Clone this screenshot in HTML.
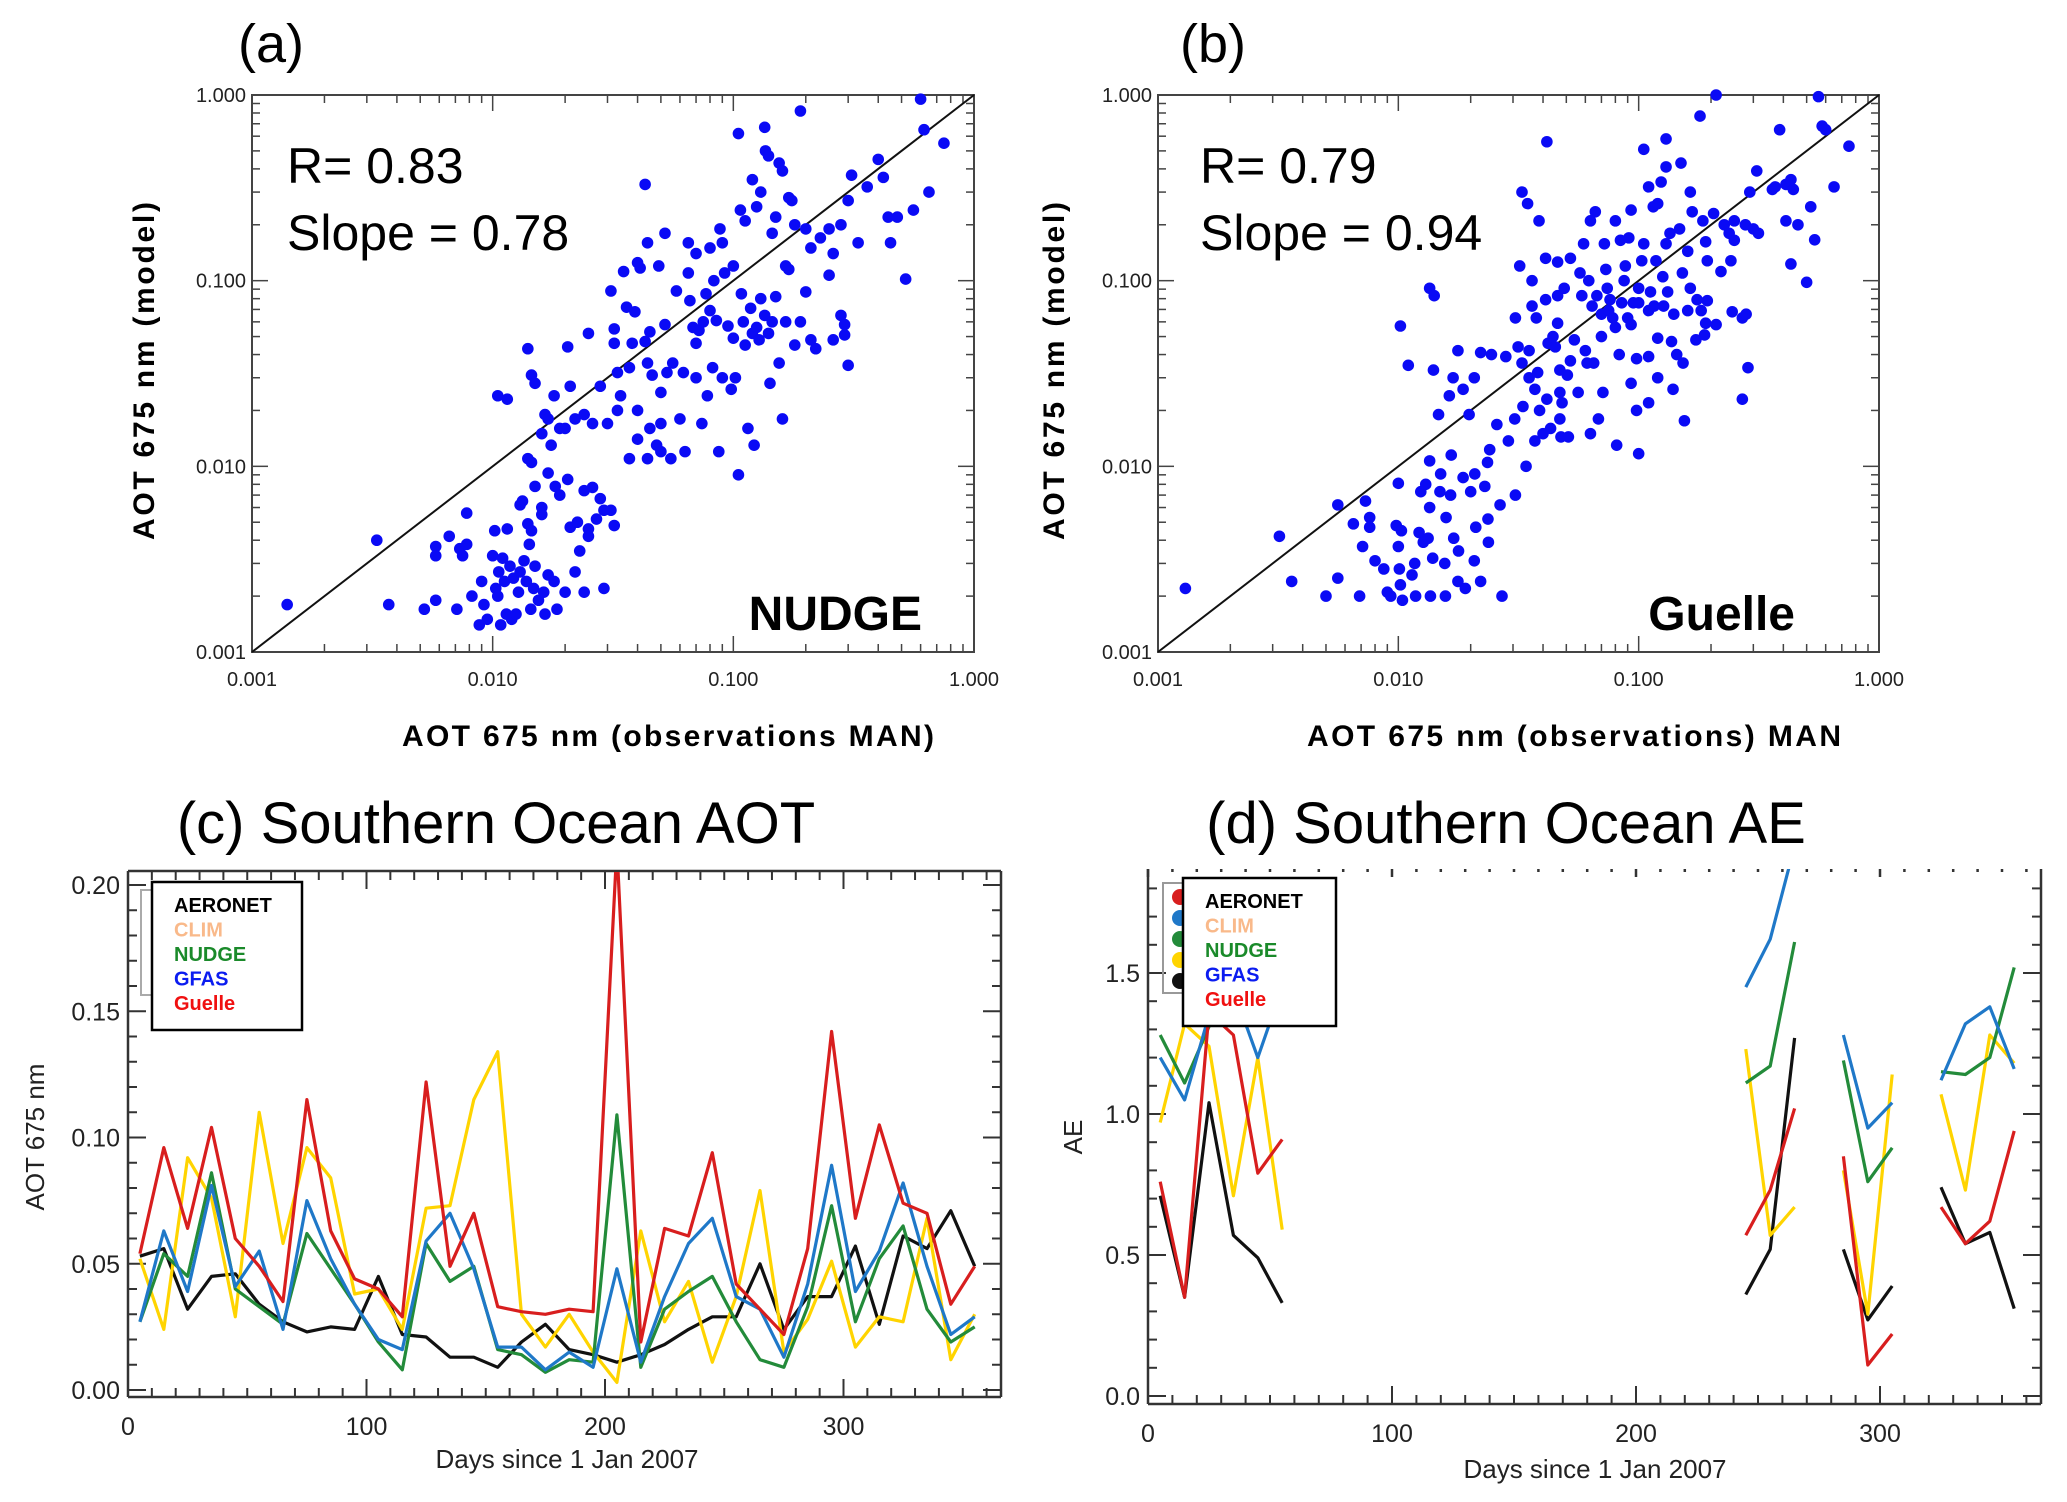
<!DOCTYPE html>
<html><head><meta charset="utf-8"><style>
html,body{margin:0;padding:0;background:#fff}
svg{display:block}
text{font-family:"Liberation Sans",sans-serif}
</style></head><body>
<svg id="fig" xmlns="http://www.w3.org/2000/svg" width="2067" height="1502" viewBox="0 0 2067 1502">
<rect width="2067" height="1502" fill="#fff"/>
<g id="pa"></g>
<g id="pb"></g>
<g id="pc"></g>
<g id="pd"></g>
</svg>
<script>
// ---------- data: panel a (obs, model) ----------
const nudgeObs=[0.0014,0.0033,0.0037,0.0052,0.0058,0.0058,0.0058,0.0066,0.0071,0.0073,0.0075,0.0078,0.0078,0.0082,0.0088,0.009,0.0092,0.0095,0.01,0.0102,0.0103,0.0105,0.0106,0.0108,0.011,0.0112,0.0114,0.0115,0.0118,0.012,0.0122,0.0125,0.0128,0.013,0.013,0.0133,0.0135,0.0138,0.014,0.0142,0.0144,0.0145,0.0148,0.015,0.015,0.0155,0.016,0.016,0.0163,0.0165,0.017,0.017,0.018,0.0182,0.0185,0.019,0.02,0.0205,0.021,0.022,0.0225,0.023,0.024,0.024,0.025,0.025,0.026,0.027,0.028,0.029,0.029,0.031,0.032,0.014,0.0145,
0.0105,0.0115,0.014,0.0145,0.015,0.016,0.0165,0.017,0.0175,0.018,0.019,0.02,0.0205,0.021,0.022,0.024,0.025,0.026,0.028,0.03,0.031,0.032,0.032,0.033,0.033,0.034,0.035,0.036,0.037,0.037,0.038,0.039,0.04,0.04,0.041,0.043,0.044,0.044,0.045,0.045,0.046,0.048,0.05,0.05,0.05,0.052,0.053,0.055,0.056,0.058,0.06,0.062,0.063,0.065,0.066,0.068,0.07,0.07,0.072,0.074,0.075,0.077,0.078,0.08,0.082,0.083,0.085,0.087,0.09,0.092,0.095,0.098,0.1,0.102,0.105,0.108,0.11,0.112,0.115,0.118,0.12,0.122,0.125,0.128,0.13,0.135,0.14,0.142,0.145,0.15,0.155,0.16,0.165,0.17,0.18,0.19,0.2,0.21,0.22,0.25,0.26,0.28,0.29,0.3,0.29,
0.04,0.043,0.044,0.049,0.052,0.065,0.07,0.08,0.088,0.09,0.1,0.105,0.107,0.112,0.12,0.125,0.13,0.135,0.136,0.14,0.145,0.15,0.155,0.16,0.165,0.17,0.175,0.18,0.19,0.2,0.21,0.23,0.25,0.26,0.28,0.3,0.31,0.33,0.36,0.4,0.42,0.44,0.45,0.48,0.52,0.56,0.6,0.62,0.65,0.75];
const nudgeMod=[0.0018,0.004,0.0018,0.0017,0.0019,0.0037,0.0033,0.0042,0.0017,0.0036,0.0033,0.0038,0.0056,0.002,0.0014,0.0024,0.0018,0.0015,0.0033,0.0045,0.0022,0.002,0.0027,0.0014,0.0032,0.0024,0.0016,0.0046,0.0029,0.0015,0.0025,0.0016,0.0021,0.0062,0.0027,0.0065,0.0031,0.0024,0.0049,0.0038,0.0017,0.0045,0.0022,0.0029,0.0078,0.0019,0.006,0.0055,0.0021,0.0016,0.0026,0.0092,0.0024,0.0078,0.0017,0.007,0.0021,0.0085,0.0047,0.0027,0.005,0.0035,0.0074,0.0021,0.0042,0.0046,0.0077,0.0052,0.0067,0.0058,0.0022,0.0058,0.0048,0.011,0.0105,
0.024,0.023,0.043,0.031,0.028,0.015,0.019,0.018,0.013,0.024,0.016,0.016,0.044,0.027,0.018,0.019,0.052,0.017,0.027,0.017,0.088,0.055,0.046,0.032,0.02,0.024,0.112,0.072,0.034,0.011,0.046,0.068,0.02,0.014,0.117,0.047,0.036,0.011,0.016,0.053,0.031,0.013,0.025,0.017,0.012,0.058,0.032,0.011,0.036,0.088,0.018,0.032,0.012,0.11,0.078,0.056,0.046,0.03,0.054,0.017,0.06,0.085,0.024,0.069,0.034,0.1,0.061,0.012,0.03,0.11,0.057,0.026,0.049,0.03,0.009,0.085,0.06,0.045,0.016,0.071,0.052,0.013,0.056,0.048,0.08,0.065,0.052,0.028,0.06,0.082,0.036,0.018,0.06,0.115,0.045,0.06,0.087,0.048,0.043,0.107,0.048,0.065,0.058,0.035,0.051,
0.125,0.33,0.16,0.12,0.18,0.16,0.14,0.15,0.19,0.16,0.12,0.62,0.24,0.21,0.35,0.25,0.3,0.67,0.5,0.47,0.18,0.22,0.43,0.39,0.12,0.28,0.27,0.2,0.82,0.19,0.15,0.17,0.19,0.14,0.2,0.27,0.37,0.16,0.32,0.45,0.36,0.22,0.16,0.22,0.102,0.24,0.95,0.65,0.3,0.55];
// ---------- data: panel b (obs, model) ----------
const guelleObs=[0.0013,0.0032,0.0036,0.005,0.0056,0.0056,0.0065,0.0069,0.0071,0.0073,0.0076,0.0076,0.008,0.0087,0.009,0.0093,0.0098,0.01,0.01,0.0101,0.0102,0.0102,0.0103,0.0104,0.011,0.0114,0.0117,0.0118,0.0122,0.0124,0.0127,0.013,0.0133,0.0135,0.0135,0.0135,0.0136,0.0139,0.014,0.0141,0.0147,0.0149,0.015,0.0156,0.0157,0.0158,0.0163,0.0165,0.0166,0.0169,0.017,0.0177,0.0177,0.0178,0.0186,0.0186,0.019,0.0197,0.02,0.0207,0.0207,0.0208,0.021,0.022,0.022,0.0229,0.0235,0.0236,0.0237,0.024,0.0244,0.0257,0.0265,0.027,0.028,0.0287,0.0305,0.0307,0.0307,0.0315,0.032,0.0327,0.0327,0.033,0.034,0.0345,0.035,0.035,0.036,0.036,0.037,0.037,0.0375,0.038,0.0385,0.0387,0.04,0.041,0.041,0.0415,0.0415,0.042,0.043,0.044,0.045,0.046,0.046,0.046,0.047,0.047,0.047,0.0475,0.048,0.049,0.0505,0.051,0.052,0.052,0.054,0.056,0.057,0.058,0.059,0.06,0.061,0.062,0.063,0.063,0.064,0.065,0.066,0.067,0.068,0.07,0.07,0.071,0.072,0.073,0.074,0.075,0.076,0.078,0.08,0.08,0.081,0.083,0.084,0.085,0.087,0.088,0.09,0.091,0.093,0.093,0.093,0.095,0.098,0.098,0.1,0.1,0.1,0.103,0.105,0.105,0.11,0.11,0.11,0.11,0.112,0.115,0.116,0.118,0.12,0.12,0.12,0.124,0.126,0.127,0.13,0.13,0.13,0.132,0.135,0.137,0.139,0.14,0.144,0.148,0.15,0.152,0.153,0.155,0.16,0.16,0.164,0.164,0.167,0.173,0.175,0.18,0.182,0.185,0.188,0.19,0.19,0.193,0.193,0.205,0.21,0.21,0.22,0.227,0.238,0.242,0.245,0.25,0.25,0.27,0.27,0.278,0.28,0.285,0.29,0.3,0.31,0.315,0.36,0.37,0.386,0.41,0.41,0.43,0.43,0.44,0.46,0.5,0.52,0.54,0.56,0.58,0.6,0.65,0.75];
const guelleMod=[0.0022,0.0042,0.0024,0.002,0.0025,0.0062,0.0049,0.002,0.0037,0.0065,0.0053,0.0047,0.0031,0.0028,0.0021,0.002,0.0048,0.0081,0.0037,0.0028,0.057,0.0023,0.0045,0.0019,0.035,0.0026,0.003,0.002,0.0044,0.0073,0.0039,0.008,0.0041,0.091,0.0107,0.006,0.002,0.0032,0.033,0.083,0.019,0.0073,0.0091,0.003,0.002,0.0053,0.024,0.007,0.0115,0.03,0.0041,0.042,0.0024,0.0035,0.026,0.0087,0.0022,0.019,0.0073,0.0031,0.03,0.0091,0.0047,0.041,0.0024,0.0078,0.0105,0.0052,0.0039,0.0123,0.04,0.0168,0.0062,0.002,0.039,0.0137,0.018,0.063,0.007,0.044,0.12,0.3,0.036,0.021,0.01,0.26,0.03,0.042,0.1,0.073,0.026,0.0137,0.063,0.032,0.21,0.02,0.015,0.132,0.079,0.56,0.023,0.046,0.016,0.05,0.044,0.126,0.059,0.083,0.033,0.025,0.018,0.0144,0.022,0.091,0.031,0.0144,0.132,0.037,0.048,0.025,0.11,0.083,0.158,0.042,0.036,0.1,0.015,0.21,0.073,0.036,0.235,0.083,0.018,0.066,0.05,0.025,0.158,0.115,0.091,0.069,0.079,0.063,0.056,0.21,0.013,0.04,0.165,0.076,0.1,0.12,0.063,0.17,0.24,0.028,0.058,0.076,0.02,0.038,0.091,0.0117,0.076,0.128,0.158,0.51,0.32,0.069,0.039,0.022,0.087,0.25,0.073,0.128,0.049,0.26,0.03,0.34,0.105,0.073,0.58,0.41,0.158,0.087,0.18,0.047,0.026,0.066,0.04,0.19,0.43,0.11,0.036,0.0176,0.144,0.069,0.091,0.3,0.235,0.048,0.079,0.77,0.069,0.21,0.051,0.059,0.162,0.128,0.078,0.23,1.0,0.058,0.112,0.2,0.18,0.128,0.068,0.21,0.165,0.063,0.023,0.2,0.066,0.034,0.3,0.19,0.39,0.18,0.31,0.32,0.65,0.33,0.21,0.123,0.35,0.31,0.2,0.098,0.25,0.166,0.98,0.68,0.65,0.32,0.53];
const logTickLabels=["0.001","0.010","0.100","1.000"];

// ---------- data: panel c (AOT 675 nm, days 5..355 step 10) ----------
const aotDays=[5,15,25,35,45,55,65,75,85,95,105,115,125,135,145,155,165,175,185,195,205,215,225,235,245,255,265,275,285,295,305,315,325,335,345,355];
const aotAeronet=[0.053,0.056,0.032,0.045,0.046,0.034,0.027,0.023,0.025,0.024,0.045,0.022,0.021,0.013,0.013,0.009,0.019,0.026,0.016,0.014,0.011,0.014,0.018,0.024,0.029,0.029,0.050,0.024,0.037,0.037,0.057,0.026,0.061,0.056,0.071,0.049];
const aotYellow=[0.052,0.024,0.092,0.076,0.029,0.110,0.058,0.096,0.084,0.038,0.040,0.024,0.072,0.073,0.115,0.134,0.030,0.017,0.030,0.015,0.003,0.063,0.027,0.043,0.011,0.037,0.079,0.015,0.028,0.051,0.017,0.029,0.027,0.068,0.012,0.030];
const aotNudge=[0.027,0.054,0.045,0.086,0.040,0.033,0.026,0.062,0.048,0.034,0.019,0.008,0.058,0.043,0.049,0.016,0.014,0.007,0.012,0.011,0.109,0.009,0.032,0.039,0.045,0.027,0.012,0.009,0.033,0.073,0.027,0.052,0.065,0.032,0.019,0.025];
const aotGfas=[0.027,0.063,0.039,0.081,0.041,0.055,0.024,0.075,0.052,0.034,0.020,0.016,0.059,0.070,0.048,0.017,0.017,0.008,0.015,0.009,0.048,0.011,0.037,0.058,0.068,0.037,0.032,0.013,0.042,0.089,0.039,0.055,0.082,0.049,0.022,0.029];
const aotGuelle=[0.054,0.096,0.064,0.104,0.060,0.049,0.035,0.115,0.063,0.044,0.040,0.029,0.122,0.049,0.070,0.033,0.031,0.030,0.032,0.031,0.215,0.019,0.064,0.061,0.094,0.042,0.032,0.022,0.056,0.142,0.068,0.105,0.074,0.070,0.034,0.049];
const aotTickLabels=["0.00","0.05","0.10","0.15","0.20"];

// ---------- data: panel d (AE) ----------
const aeDays=[5,15,25,35,45,55,245,255,265,285,295,305,325,335,345,355];
const aeBreakAfter=[55,265,305];
const aeAeronet=[0.71,0.35,1.04,0.57,0.49,0.33,0.36,0.52,1.27,0.52,0.27,0.39,0.74,0.54,0.58,0.31];
const aeYellow=[0.97,1.32,1.24,0.71,1.20,0.59,1.23,0.57,0.67,0.80,0.29,1.14,1.07,0.73,1.28,1.18];
const aeNudge=[1.28,1.11,1.31,1.45,1.50,1.50,1.11,1.17,1.61,1.19,0.76,0.88,1.15,1.14,1.20,1.52];
const aeGfas=[1.20,1.05,1.35,1.44,1.20,1.45,1.45,1.62,1.95,1.28,0.95,1.04,1.12,1.32,1.38,1.16];
const aeGuelle=[0.76,0.35,1.36,1.28,0.79,0.91,0.57,0.73,1.02,0.85,0.11,0.22,0.67,0.54,0.62,0.94];
const aeTickLabels=["0.0","0.5","1.0","1.5"];
const dayTickLabels=["0","100","200","300"];
const legendNames=["AERONET","CLIM","NUDGE","GFAS","Guelle"];

const NS="http://www.w3.org/2000/svg";
function mk(parent,tag,attrs,txt){const e=document.createElementNS(NS,tag);for(const k in attrs)e.setAttribute(k,attrs[k]);if(txt!==undefined)e.textContent=txt;parent.appendChild(e);return e;}

function scatter(g,box,xs,ys,labels){
  const L=box.x0,R=box.x1,T=box.y0,B=box.y1;
  const sx=v=>L+(Math.log10(v)+3)/3*(R-L);
  const sy=v=>B-(Math.log10(v)+3)/3*(B-T);
  const frame=mk(g,'rect',{x:L,y:T,width:R-L,height:B-T,fill:'none',stroke:'#444','stroke-width':2});
  
  
  for(let d=0;d<3;d++){for(let m=1;m<=10;m++){
    const v=Math.pow(10,d-3)*m; if(m===10&&d<2)continue;
    const major=(m===1||m===10); const len=major?16:8;
    const X=sx(v),Y=sy(v);
    mk(g,'line',{x1:X,y1:B,x2:X,y2:B-len,stroke:'#444','stroke-width':1.5});
    mk(g,'line',{x1:X,y1:T,x2:X,y2:T+len,stroke:'#444','stroke-width':1.5});
    mk(g,'line',{x1:L,y1:Y,x2:L+len,y2:Y,stroke:'#444','stroke-width':1.5});
    mk(g,'line',{x1:R,y1:Y,x2:R-len,y2:Y,stroke:'#444','stroke-width':1.5});
  }}
  labels.forEach((t,i)=>{
    const v=Math.pow(10,i-3);
    const xt=mk(g,'text',{x:sx(v),y:B+34,'font-size':20,'text-anchor':'middle',fill:'#222'},t);
    
    
    const yt=mk(g,'text',{x:L-6,y:sy(v)+7,'font-size':20,'text-anchor':'end',fill:'#222'},t);
    
    
  });
  const ln=mk(g,'line',{x1:sx(0.001),y1:sy(0.001),x2:sx(1),y2:sy(1),stroke:'#111','stroke-width':2});
  
  
  const pts=mk(g,'g',{fill:'#0a0af5'});
  
  
  for(let i=0;i<xs.length&&i<ys.length;i++){
    const c=mk(pts,'circle',{cx:sx(xs[i]),cy:sy(ys[i]),r:5.8});
    
    
  }
  return {sx,sy};
}
function txt(g,name,x,y,s,attrs){const t=mk(g,'text',Object.assign({x:x,y:y},attrs||{}),s);return t;}

const pa=document.getElementById('pa'), pb=document.getElementById('pb');
scatter(pa,{x0:252,x1:974,y0:95,y1:652},nudgeObs,nudgeMod,logTickLabels);
scatter(pb,{x0:1158,x1:1879,y0:95,y1:652},guelleObs,guelleMod,logTickLabels);
txt(pa,'panel-label-a',238,62,'(a)',{'font-size':54});
txt(pb,'panel-label-b',1180,62,'(b)',{'font-size':54});
txt(pa,'r-value',287,183,'R= 0.83',{'font-size':50});
txt(pa,'slope-value',287,250,'Slope = 0.78',{'font-size':50});
txt(pb,'r-value',1200,183,'R= 0.79',{'font-size':50});
txt(pb,'slope-value',1200,250,'Slope = 0.94',{'font-size':50});
txt(pa,'model-name',922,630,'NUDGE',{'font-size':48,'font-weight':'bold','text-anchor':'end'});
txt(pb,'model-name',1795,630,'Guelle',{'font-size':48,'font-weight':'bold','text-anchor':'end'});
txt(pa,'x-axis-title',402,746,'AOT  675 nm (observations MAN)',{'font-size':30,'font-weight':'bold',textLength:532,lengthAdjust:'spacing'});
txt(pb,'x-axis-title',1307,746,'AOT  675 nm (observations) MAN',{'font-size':30,'font-weight':'bold',textLength:534,lengthAdjust:'spacing'});
txt(pa,'y-axis-title',0,0,'AOT  675 nm (model)',{'font-size':30,'font-weight':'bold',textLength:338,lengthAdjust:'spacing',transform:'translate(154,540) rotate(-90)'});
txt(pb,'y-axis-title',0,0,'AOT  675 nm (model)',{'font-size':30,'font-weight':'bold',textLength:338,lengthAdjust:'spacing',transform:'translate(1064,540) rotate(-90)'});

const colors={aeronet:'#111',yellow:'#ffd400',nudge:'#238b3a',gfas:'#1f78c8',guelle:'#d81e1e'};
function tsPanel(g,box,ymax,ymajor,yminor,ylabels,dotted){
  const L=box.x0,R=box.x1,T=box.y0,B=box.y1,ZY=box.zeroY,D100=box.d100;
  const sx=d=>L+d/100*D100;
  const sy=v=>ZY-v/ymax*(ZY-box.maxY);
  mk(g,'line',{x1:L,y1:B,x2:R,y2:B,stroke:'#333','stroke-width':2.5});
  mk(g,'line',{x1:L,y1:T,x2:L,y2:B,stroke:'#333','stroke-width':2.5});
  mk(g,'line',{x1:R,y1:T,x2:R,y2:B,stroke:'#333','stroke-width':2.5});
  if(!dotted) mk(g,'line',{x1:L,y1:T,x2:R,y2:T,stroke:'#333','stroke-width':2.5});
  for(let d=0;sx(d)<R-2;d+=10){
    const major=d%100===0, len=major?18:9, X=sx(d);
    mk(g,'line',{x1:X,y1:B,x2:X,y2:B-len,stroke:'#333','stroke-width':2});
    if(dotted){ mk(g,'line',{x1:X,y1:T,x2:X,y2:T+(major?8:3),stroke:'#333','stroke-width':2.5}); }
    else mk(g,'line',{x1:X,y1:T,x2:X,y2:T+len,stroke:'#333','stroke-width':2});
  }
  for(let v=0;sy(v)>T+2;v=Math.round((v+yminor)*1000)/1000){
    const major=Math.abs(v/ymajor-Math.round(v/ymajor))<1e-6, len=major?18:9, Y=sy(v);
    mk(g,'line',{x1:L,y1:Y,x2:L+len,y2:Y,stroke:'#333','stroke-width':2});
    mk(g,'line',{x1:R,y1:Y,x2:R-len,y2:Y,stroke:'#333','stroke-width':2});
  }
  ylabels.forEach((t,i)=>{
    const yt=mk(g,'text',{x:L-8,y:sy(i*ymajor)+9,'font-size':25,'text-anchor':'end',fill:'#222'},t);
    
    
  });
  dayTickLabels.forEach((t,i)=>{
    const xt=mk(g,'text',{x:sx(i*100),y:B+38,'font-size':25,'text-anchor':'middle',fill:'#222'},t);
    
    
  });
  return {sx,sy};
}
function series(g,clipId,days,vals,color,name,sc,breaks){
  let d='',start=true;
  for(let i=0;i<days.length;i++){
    if(vals[i]===null){start=true;continue;}
    d+=(start?'M':'L')+sc.sx(days[i]).toFixed(1)+' '+sc.sy(vals[i]).toFixed(1)+' ';
    start=false;
    if(breaks&&breaks.indexOf(days[i])>=0)start=true;
  }
  const p=mk(g,'path',{d:d,fill:'none',stroke:color,'stroke-width':3.2,'stroke-linejoin':'round','clip-path':'url(#'+clipId+')'});
  
  
}
function legend(g,x,y,w,h){
  const cols=['#000','#f9b98a','#1a8a2a','#0b1cf0','#f01010'];
  const lg=mk(g,'g',{});
  
  
  mk(lg,'rect',{x:x,y:y,width:w,height:h,fill:'#fff',stroke:'#000','stroke-width':2.5});
  legendNames.forEach((n,i)=>{
    const t=mk(lg,'text',{x:x+22,y:y+30+i*24.5,'font-size':20,'font-weight':'bold',fill:cols[i]},n);
    
    
  });
}
const defs=mk(document.getElementById('fig'),'defs',{});
const cc=mk(defs,'clipPath',{id:'clipc'}); mk(cc,'rect',{x:128,y:872,width:874,height:528});
const cd=mk(defs,'clipPath',{id:'clipd'}); mk(cd,'rect',{x:1148,y:869,width:893,height:535});

const pc=document.getElementById('pc');
const scC=tsPanel(pc,{x0:128,x1:1001,y0:871,y1:1397,zeroY:1390,maxY:885,d100:238.5},0.20,0.05,0.01,aotTickLabels,false);
mk(pc,'rect',{x:141,y:890,width:12,height:105,fill:'none',stroke:'#aaa','stroke-width':2});
series(pc,'clipc',aotDays,aotAeronet,colors.aeronet,'series-aeronet',scC);
series(pc,'clipc',aotDays,aotYellow,colors.yellow,'series-clim',scC);
series(pc,'clipc',aotDays,aotNudge,colors.nudge,'series-nudge',scC);
series(pc,'clipc',aotDays,aotGfas,colors.gfas,'series-gfas',scC);
series(pc,'clipc',aotDays,aotGuelle,colors.guelle,'series-guelle',scC);
legend(pc,152,882,150,148);
txt(pc,'panel-title-c',496,843,'(c)  Southern Ocean AOT',{'font-size':58,'text-anchor':'middle'});
txt(pc,'x-axis-title',567,1468,'Days since 1 Jan  2007',{'font-size':26,'text-anchor':'middle',fill:'#222'});
txt(pc,'y-axis-title',0,0,'AOT 675 nm',{'font-size':26,'text-anchor':'middle',fill:'#222',transform:'translate(44,1137) rotate(-90)'});

const pd=document.getElementById('pd');
const scD=tsPanel(pd,{x0:1148,x1:2041,y0:869,y1:1404,zeroY:1396,maxY:973,d100:244},1.5,0.5,0.1,aeTickLabels,true);
mk(pd,'rect',{x:1163,y:883,width:22,height:110,fill:'none',stroke:'#999','stroke-width':2});
['#d81e1e','#1f78c8','#238b3a','#ffd400','#111'].forEach((c,i)=>{mk(pd,'circle',{cx:1180,cy:897+i*21,r:8,fill:c});});
series(pd,'clipd',aeDays,aeAeronet,colors.aeronet,'series-aeronet',scD,aeBreakAfter);
series(pd,'clipd',aeDays,aeYellow,colors.yellow,'series-clim',scD,aeBreakAfter);
series(pd,'clipd',aeDays,aeNudge,colors.nudge,'series-nudge',scD,aeBreakAfter);
series(pd,'clipd',aeDays,aeGfas,colors.gfas,'series-gfas',scD,aeBreakAfter);
series(pd,'clipd',aeDays,aeGuelle,colors.guelle,'series-guelle',scD,aeBreakAfter);
legend(pd,1183,878,153,148);
txt(pd,'panel-title-d',1506,843,'(d) Southern Ocean AE',{'font-size':58,'text-anchor':'middle'});
txt(pd,'x-axis-title',1595,1478,'Days since 1 Jan  2007',{'font-size':26,'text-anchor':'middle',fill:'#222'});
txt(pd,'y-axis-title',0,0,'AE',{'font-size':26,'text-anchor':'middle',fill:'#222',transform:'translate(1082,1137) rotate(-90)'});
</script>
</body></html>
